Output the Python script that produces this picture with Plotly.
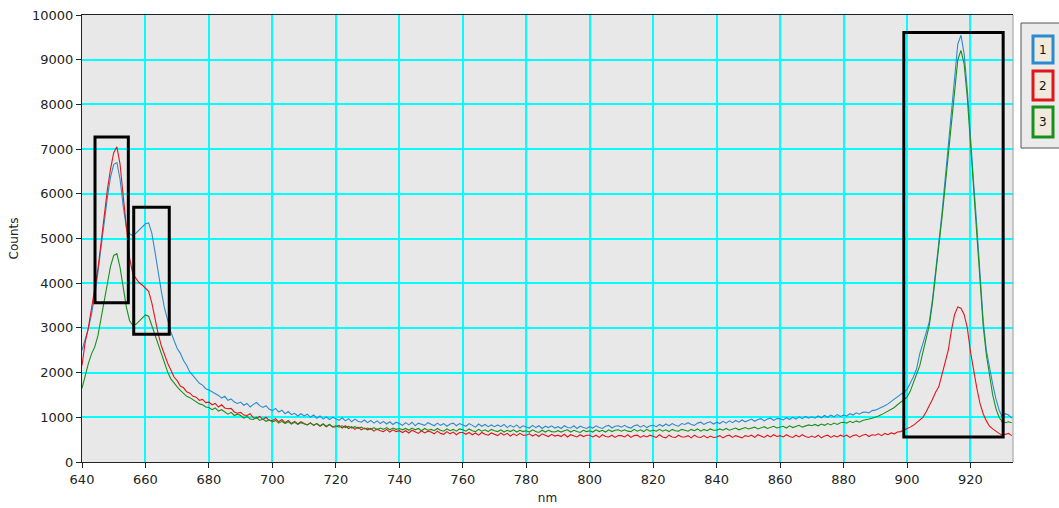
import plotly.graph_objects as go

wavelength_start = 640
wavelength_end = 933

series_names = ["1", "2", "3"]
series_colors = ["#2a8bd0", "#e0161b", "#18901c"]

counts_1 = [
    2500, 2760, 2980, 3310, 3720, 4230, 4820, 5380, 5920, 6380,
    6660, 6700, 6320, 5720, 5240, 5110, 5060, 5120, 5190, 5280,
    5330, 5350, 5120, 4700, 4210, 3820, 3440, 3160, 2910, 2720,
    2540, 2430, 2270, 2160, 2010, 1930, 1850, 1760, 1720, 1640,
    1610, 1570, 1520, 1490, 1430, 1470, 1380, 1410, 1340, 1310,
    1340, 1270, 1310, 1230, 1290, 1330, 1260, 1220, 1260, 1180,
    1150, 1200, 1120, 1160, 1080, 1130, 1060, 1090, 1030, 1080,
    1030, 1070, 1000, 1050, 980, 1030, 960, 1010, 950, 1000,
    970, 930, 990, 920, 970, 900, 960, 910, 890, 940,
    880, 930, 870, 920, 860, 910, 850, 900, 840, 890,
    860, 820, 880, 830, 890, 810, 870, 850, 820, 880,
    840, 810, 870, 820, 860, 800, 850, 870, 810, 860,
    830, 800, 860, 810, 780, 850, 800, 840, 790, 830,
    790, 830, 790, 840, 770, 820, 780, 830, 760, 810,
    790, 760, 820, 770, 810, 750, 800, 770, 810, 760,
    790, 750, 810, 770, 760, 810, 750, 800, 770, 750,
    790, 760, 810, 770, 750, 800, 820, 760, 800, 810,
    780, 820, 780, 760, 810, 830, 780, 820, 770, 810,
    820, 790, 840, 800, 850, 810, 860, 820, 800, 860,
    840, 880, 840, 820, 870, 890, 840, 880, 900, 850,
    890, 860, 910, 870, 920, 880, 930, 890, 940, 900,
    930, 960, 910, 950, 970, 920, 960, 980, 930, 970,
    970, 940, 990, 950, 1000, 960, 1010, 970, 1020, 980,
    1010, 980, 1030, 990, 1040, 1000, 1050, 1010, 1060, 1020,
    1050, 1030, 1080, 1050, 1100, 1070, 1110, 1120, 1100, 1150,
    1160, 1190, 1220, 1260, 1300, 1350, 1400, 1460, 1510, 1560,
    1620, 1760, 1900, 2080, 2420, 2650, 2900, 3130, 3620, 4220,
    4900, 5560, 6300, 7100, 7890, 8690, 9350, 9550, 9130, 8330,
    7220, 6240, 5280, 4130, 3170, 2500, 2080, 1740, 1420, 1170,
    1000, 1080, 1050, 980,
]

counts_2 = [
    2160, 2680, 3000, 3420, 3860, 4310, 4900, 5520, 6100, 6560,
    6920, 7050, 6660, 5940, 5160, 4560, 4210, 4100, 4010, 3960,
    3900, 3820, 3560, 3200, 2870, 2600, 2400, 2210, 2060, 1900,
    1820, 1700, 1660, 1570, 1540, 1470, 1450, 1380, 1400, 1330,
    1340, 1280, 1310, 1230, 1280, 1210, 1190, 1200, 1120, 1090,
    1110, 1050, 1040, 1080, 990, 980, 1020, 950, 1000, 930,
    930, 970, 900, 950, 880, 930, 860, 910, 850, 900,
    860, 830, 880, 820, 860, 800, 850, 790, 840, 780,
    790, 820, 760, 810, 750, 790, 730, 780, 720, 760,
    720, 750, 690, 740, 700, 680, 730, 670, 720, 680,
    700, 660, 700, 650, 710, 670, 640, 700, 650, 690,
    670, 630, 690, 640, 620, 680, 630, 670, 610, 660,
    660, 620, 660, 610, 650, 600, 660, 620, 600, 650,
    620, 590, 650, 600, 640, 580, 630, 590, 640, 600,
    600, 630, 580, 620, 570, 630, 600, 570, 620, 580,
    600, 570, 620, 560, 610, 590, 560, 610, 570, 600,
    600, 560, 600, 550, 610, 570, 560, 600, 550, 590,
    590, 560, 610, 550, 590, 600, 550, 590, 560, 600,
    580, 550, 610, 560, 540, 600, 560, 550, 600, 560,
    560, 590, 540, 600, 560, 550, 590, 540, 580, 550,
    560, 590, 540, 580, 600, 550, 590, 560, 540, 590,
    570, 600, 550, 610, 580, 550, 600, 560, 610, 570,
    590, 560, 610, 570, 550, 600, 560, 610, 570, 550,
    580, 550, 600, 540, 580, 600, 550, 590, 560, 600,
    570, 600, 550, 590, 610, 560, 600, 620, 570, 610,
    600, 630, 590, 640, 610, 650, 630, 670, 680, 710,
    750, 780, 820, 880, 930, 1000, 1120, 1250, 1400, 1560,
    1680, 1950, 2230, 2500, 2950, 3300, 3470, 3440, 3300, 3000,
    2470, 2050, 1650, 1310, 1080, 920, 800, 740, 680, 640,
    600, 620, 640, 590,
]

counts_3 = [
    1650, 1950, 2200, 2420, 2570, 2820, 3200, 3560, 4000, 4380,
    4620, 4660, 4350, 3900, 3460, 3160, 3060, 3080, 3150, 3240,
    3290, 3260, 3050, 2860, 2660, 2420, 2200, 2010, 1860, 1760,
    1680, 1600, 1540, 1470, 1440, 1390, 1350, 1300, 1280, 1230,
    1220, 1170, 1210, 1140, 1170, 1120, 1070, 1110, 1040, 1070,
    1040, 980, 1020, 960, 950, 1000, 930, 960, 910, 940,
    900, 930, 870, 910, 860, 900, 850, 890, 840, 880,
    860, 830, 870, 820, 860, 810, 850, 800, 840, 790,
    810, 780, 810, 770, 800, 760, 790, 750, 780, 740,
    760, 730, 770, 720, 760, 730, 770, 720, 760, 730,
    750, 720, 750, 710, 760, 720, 750, 700, 750, 710,
    730, 700, 750, 710, 690, 740, 700, 730, 690, 740,
    720, 690, 740, 700, 680, 730, 690, 720, 680, 730,
    700, 680, 720, 670, 710, 680, 720, 670, 710, 680,
    700, 670, 720, 680, 660, 710, 670, 710, 680, 670,
    700, 670, 700, 720, 670, 710, 680, 660, 710, 680,
    700, 670, 720, 680, 710, 670, 720, 680, 710, 720,
    690, 720, 690, 680, 730, 690, 720, 680, 730, 690,
    710, 690, 730, 690, 720, 680, 730, 700, 690, 730,
    710, 690, 730, 700, 740, 690, 730, 700, 740, 710,
    710, 740, 710, 750, 710, 740, 760, 720, 750, 770,
    740, 760, 780, 740, 770, 790, 750, 780, 800, 760,
    780, 800, 760, 810, 770, 800, 820, 780, 810, 830,
    810, 840, 810, 850, 820, 860, 830, 870, 840, 880,
    890, 870, 910, 880, 920, 890, 930, 940, 960, 980,
    1000, 1030, 1060, 1100, 1140, 1180, 1220, 1280, 1340, 1400,
    1450, 1580, 1760, 1980, 2150, 2450, 2750, 3050, 3550, 4150,
    4800, 5450, 6150, 6900, 7650, 8400, 9000, 9210, 8900, 8150,
    7100, 6150, 5200, 4050, 3050, 2400, 1900, 1500, 1200, 1000,
    900, 880, 900, 880,
]

x_ticks = [640, 660, 680, 700, 720, 740, 760, 780, 800, 820, 840, 860, 880, 900, 920]
y_ticks = [0, 1000, 2000, 3000, 4000, 5000, 6000, 7000, 8000, 9000, 10000]
y_tick_labels = ["0", "1000", "2000", "3000", "4000", "5000", "6000", "7000", "8000", "9000", "10000"]

# highlight boxes: (x0, x1, y0, y1) in data units
boxes_x0 = [644.1, 656.3, 899.0]
boxes_x1 = [654.6, 667.5, 930.3]
boxes_y0 = [3560, 2860, 560]
boxes_y1 = [7270, 5700, 9610]

wavelengths = list(range(wavelength_start, wavelength_end + 1))
all_counts = [counts_1, counts_2, counts_3]
for c in all_counts:
    assert len(c) == len(wavelengths), len(c)

fig = go.Figure()
for name, color, ys in zip(series_names, series_colors, all_counts):
    fig.add_trace(go.Scatter(x=wavelengths, y=ys, mode="lines", name=name,
                             line=dict(color=color, width=1.1), showlegend=False))

shapes = []
for x0, x1, y0, y1 in zip(boxes_x0, boxes_x1, boxes_y0, boxes_y1):
    shapes.append(dict(type="rect", xref="x", yref="y", x0=x0, x1=x1, y0=y0, y1=y1,
                       line=dict(color="black", width=3), fillcolor="rgba(0,0,0,0)", layer="above"))

# right plot border (gray)
shapes.append(dict(type="line", xref="paper", yref="paper", x0=1, x1=1, y0=0, y1=1,
                   line=dict(color="#9a9a9a", width=1), layer="above"))

# custom legend
L, T, W, H = 82, 15, 931, 447
def px(p):
    return (p - L) / W
def py(p):
    return (T + H - p) / H

shapes.append(dict(type="rect", xref="paper", yref="paper", x0=px(1021), x1=px(1066),
                   y0=py(148), y1=py(23), line=dict(color="#555555", width=1),
                   fillcolor="#ebebeb", layer="above"))
item_tops = [36, 71, 107]
item_bots = [63, 100, 137]
annotations = []
for name, color, t, b in zip(series_names, series_colors, item_tops, item_bots):
    shapes.append(dict(type="rect", xref="paper", yref="paper", x0=px(1033), x1=px(1053),
                       y0=py(b), y1=py(t), line=dict(color=color, width=3),
                       fillcolor="#efeadc", layer="above"))
    annotations.append(dict(xref="paper", yref="paper", x=px(1043), y=py((t + b) / 2),
                            text=name, showarrow=False, xanchor="center", yanchor="middle",
                            font=dict(family="DejaVu Sans", size=12, color="#111111")))

fig.update_layout(
    width=1059, height=508,
    margin=dict(l=L, r=1059 - L - W, t=T, b=508 - T - H, autoexpand=False),
    paper_bgcolor="white",
    plot_bgcolor="#e8e8e8",
    font=dict(family="DejaVu Sans", size=13, color="#222222"),
    shapes=shapes,
    annotations=annotations,
    showlegend=False,
    xaxis=dict(range=[640, 933.4], tickvals=x_ticks, showgrid=True, gridcolor="#00ffff",
               gridwidth=2, zeroline=False, showline=True, linecolor="#222222", linewidth=1,
               mirror=True, ticks="outside", ticklen=5, tickcolor="#222222", automargin=False,
               title=dict(text="nm", font=dict(size=12), standoff=8)),
    yaxis=dict(range=[0, 10000], tickvals=y_ticks, ticktext=y_tick_labels, showgrid=True,
               gridcolor="#00ffff", gridwidth=2, zeroline=False, showline=True,
               linecolor="#222222", linewidth=1, automargin=False,
               ticks="outside", ticklen=5, tickcolor="#222222",
               title=dict(text="Counts", font=dict(size=12), standoff=10)),
)

fig.write_html("out.html", config={"displayModeBar": False},
               post_script="document.body.style.margin='0';")
